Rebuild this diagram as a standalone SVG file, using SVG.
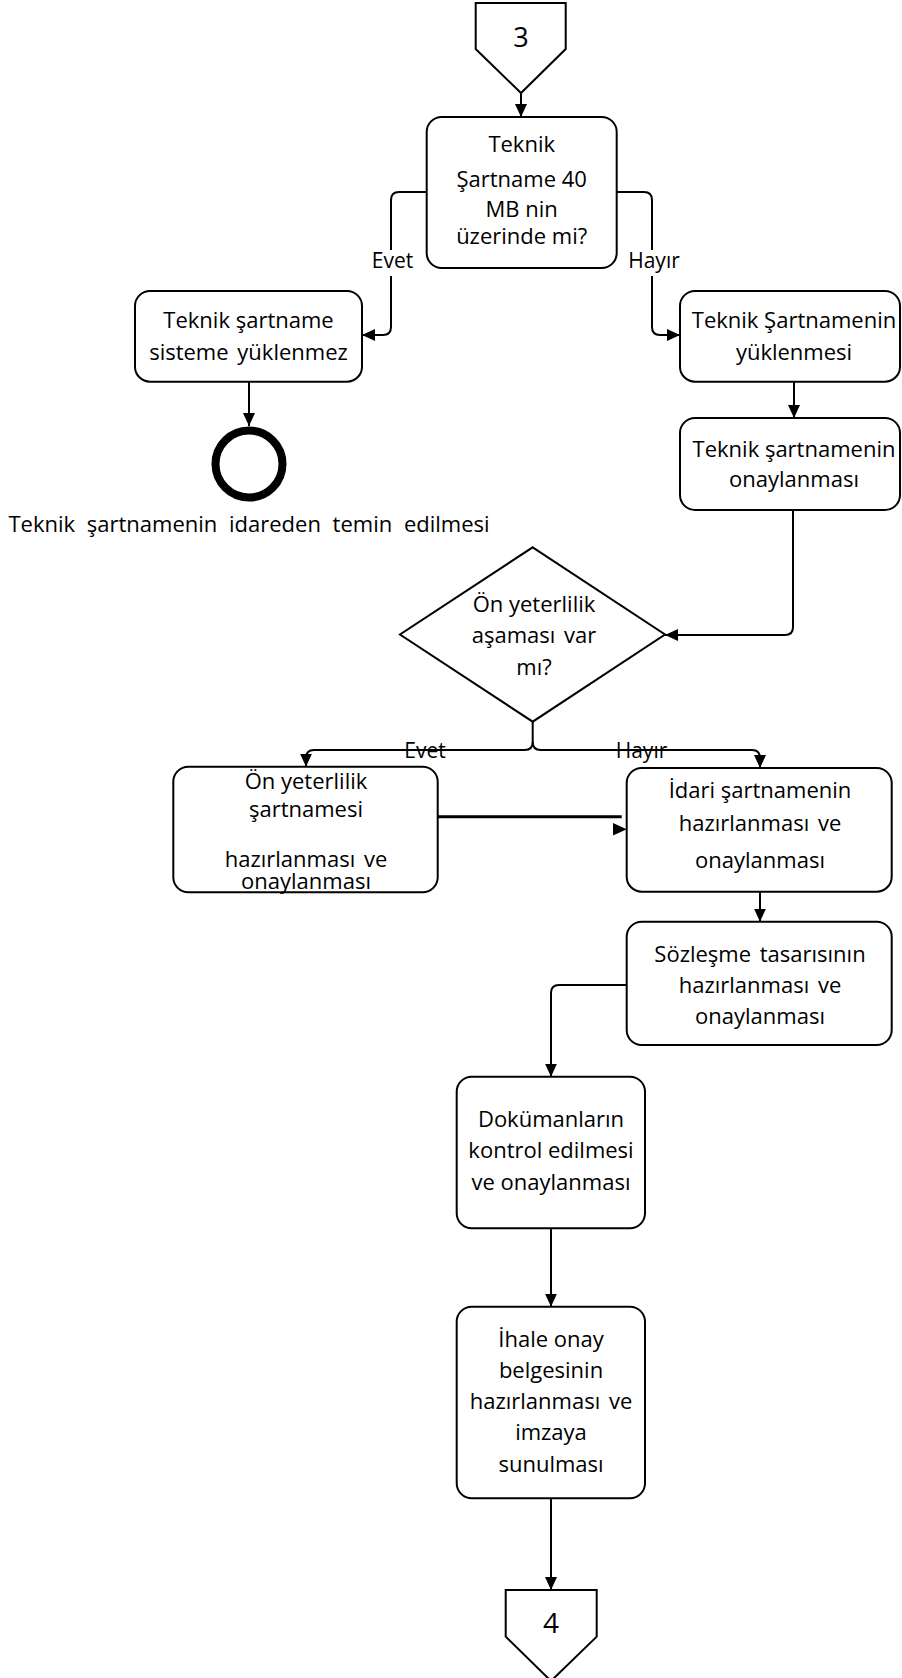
<svg xmlns="http://www.w3.org/2000/svg" width="902" height="1678" viewBox="0 0 902 1678">
<defs>
<style>
.box{fill:#fff;stroke:#000;stroke-width:2}
.t{font-family:"Open Sans","Liberation Sans",sans-serif;font-size:22px;fill:#000;text-anchor:middle}
.c{fill:none;stroke:#000;stroke-width:2}
.lbl{font-family:"Open Sans","Liberation Sans",sans-serif;font-size:21px;fill:#000;text-anchor:middle}
</style>
<marker id="ah" markerUnits="userSpaceOnUse" markerWidth="13" markerHeight="12" refX="13" refY="6" orient="auto">
<path d="M0,0 L13,6 L0,12 z" fill="#000"/>
</marker>
</defs>
<rect width="902" height="1678" fill="#fff"/>

<g id="connectors">
<path class="c" d="M521,93 V117" marker-end="url(#ah)"/>
<path class="c" d="M426.7,192 H399 Q391,192 391,200 V327 Q391,335 383,335 H362" marker-end="url(#ah)"/>
<path class="c" d="M616.7,192 H644 Q652,192 652,200 V327 Q652,335 660,335 H680" marker-end="url(#ah)"/>
<path class="c" d="M249,381.7 V426" marker-end="url(#ah)"/>
<path class="c" d="M794,381.7 V418" marker-end="url(#ah)"/>
<path class="c" d="M793,510 V627 Q793,635 785,635 H665" marker-end="url(#ah)"/>
<path class="c" d="M532.7,721.7 V742 Q532.7,750 524.7,750 H314 Q306,750 306,758 V766.7" marker-end="url(#ah)"/>
<path class="c" d="M532.7,742 Q532.7,750 540.7,750 H752 Q760,750 760,758 V768" marker-end="url(#ah)"/>
<path fill="none" stroke="#000" stroke-width="3" d="M437.7,816.7 H621.7"/>
<polygon points="613,823 626.7,829.3 613,835.6" fill="#000"/>
<path class="c" d="M760,891.7 V921.7" marker-end="url(#ah)"/>
<path class="c" d="M626.7,985 H559 Q551,985 551,993 V1076.7" marker-end="url(#ah)"/>
<path class="c" d="M551,1228.3 V1306.7" marker-end="url(#ah)"/>
<path class="c" d="M551,1498.3 V1590" marker-end="url(#ah)"/>
<rect x="371" y="250" width="44" height="26" fill="#fff"/>
<text class="lbl" x="392.5" y="268.3">Evet</text>
<rect x="630" y="250" width="50" height="26" fill="#fff"/>
<text class="lbl" x="654" y="268.3">Hayır</text>
<text class="lbl" x="425" y="758">Evet</text>
<text class="lbl" x="641.5" y="758">Hayır</text>
</g>

<g id="conn3">
<polygon class="box" points="475.7,3 565.7,3 565.7,49 521,93 475.7,49"/>
<text class="t" x="521" y="47" style="font-size:27px">3</text>
</g>

<g id="box1">
<rect class="box" x="426.7" y="117" width="190" height="151" rx="15"/>
<text class="t" x="521.7" y="151.7">Teknik</text>
<text class="t" x="521.7" y="186.7">Şartname 40</text>
<text class="t" x="521.7" y="217">MB nin</text>
<text class="t" x="521.7" y="244">üzerinde mi?</text>
</g>

<g id="box2">
<rect class="box" x="135" y="291" width="227" height="90.7" rx="15"/>
<text class="t" x="248.5" y="328">Teknik şartname</text>
<text class="t" x="248.5" y="360" word-spacing="3">sisteme yüklenmez</text>
</g>

<g id="end1">
<circle cx="249" cy="464" r="33.5" fill="#fff" stroke="#000" stroke-width="8"/>
<text class="t" x="249" y="531.7" word-spacing="6">Teknik şartnamenin idareden temin edilmesi</text>
</g>

<g id="box3">
<rect class="box" x="680" y="291" width="220" height="90.7" rx="15"/>
<text class="t" x="794" y="328">Teknik Şartnamenin</text>
<text class="t" x="794" y="360">yüklenmesi</text>
</g>

<g id="box4">
<rect class="box" x="680" y="418" width="220" height="92" rx="15"/>
<text class="t" x="794" y="457">Teknik şartnamenin</text>
<text class="t" x="794" y="487">onaylanması</text>
</g>

<g id="diamond">
<polygon class="box" points="532.7,547.3 665,634.5 532.7,721.7 400,634.5"/>
<text class="t" x="534" y="611.7">Ön yeterlilik</text>
<text class="t" x="534" y="643" word-spacing="3">aşaması var</text>
<text class="t" x="534" y="675">mı?</text>
</g>

<g id="box5">
<rect class="box" x="173.3" y="766.7" width="264.4" height="125.6" rx="15"/>
<text class="t" x="306" y="789">Ön yeterlilik</text>
<text class="t" x="306" y="816.7">şartnamesi</text>
<text class="t" x="306" y="866.7" word-spacing="3">hazırlanması ve</text>
<text class="t" x="306" y="889">onaylanması</text>
</g>

<g id="box6">
<rect class="box" x="626.7" y="768" width="265" height="123.7" rx="15"/>
<text class="t" x="760" y="797.5">İdari şartnamenin</text>
<text class="t" x="760" y="831" word-spacing="3">hazırlanması ve</text>
<text class="t" x="760" y="867.5">onaylanması</text>
</g>

<g id="box7">
<rect class="box" x="626.7" y="921.7" width="265" height="123.3" rx="15"/>
<text class="t" x="760" y="961.7" word-spacing="3">Sözleşme tasarısının</text>
<text class="t" x="760" y="993.3" word-spacing="3">hazırlanması ve</text>
<text class="t" x="760" y="1024">onaylanması</text>
</g>

<g id="box8">
<rect class="box" x="456.7" y="1076.7" width="188.3" height="151.6" rx="15"/>
<text class="t" x="551" y="1126.7">Dokümanların</text>
<text class="t" x="551" y="1158.3">kontrol edilmesi</text>
<text class="t" x="551" y="1190">ve onaylanması</text>
</g>

<g id="box9">
<rect class="box" x="456.7" y="1306.7" width="188.3" height="191.6" rx="15"/>
<text class="t" x="551" y="1346.7">İhale onay</text>
<text class="t" x="551" y="1378">belgesinin</text>
<text class="t" x="551" y="1409" word-spacing="3">hazırlanması ve</text>
<text class="t" x="551" y="1440">imzaya</text>
<text class="t" x="551" y="1471.7">sunulması</text>
</g>

<g id="conn4">
<polygon class="box" points="505.7,1590 596.7,1590 596.7,1636.7 551,1681 505.7,1636.7"/>
<text class="t" x="551" y="1633" style="font-size:28px">4</text>
</g>
</svg>
